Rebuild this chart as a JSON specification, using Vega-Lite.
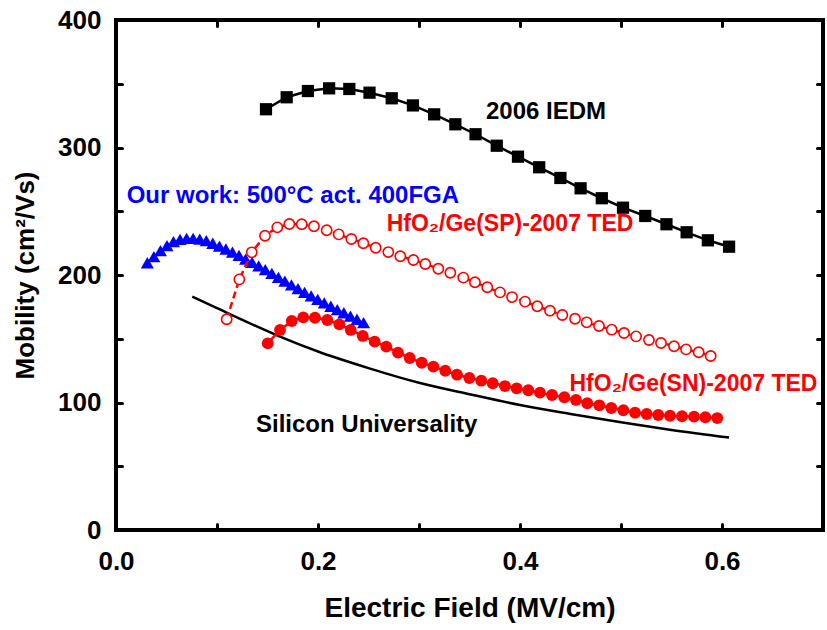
{
  "$schema": "https://vega.github.io/schema/vega-lite/v6.json",
  "width": 707,
  "height": 510,
  "autosize": "none",
  "padding": {"left": 116, "top": 20, "right": 4, "bottom": 100},
  "background": "white",
  "config": {
    "view": {"stroke": "black", "strokeWidth": 4},
    "font": "Liberation Sans",
    "axis": {
      "domain": false,
      "grid": false,
      "tickColor": "black",
      "tickWidth": 3,
      "tickSize": -6,
      "tickCap": "round",
      "labelFlush": false,
      "labelFont": "Liberation Sans",
      "labelFontSize": 26,
      "labelFontWeight": "bold",
      "labelColor": "black",
      "titleFont": "Liberation Sans",
      "titleFontSize": 26,
      "titleFontWeight": "bold",
      "titleColor": "black"
    }
  },
  "datasets": {
    "iedm": [
      {"x": 0.1485, "y": 330}, {"x": 0.169, "y": 339.4}, {"x": 0.190, "y": 344.3}, {"x": 0.211, "y": 346.4},
      {"x": 0.231, "y": 345.9}, {"x": 0.251, "y": 343}, {"x": 0.273, "y": 338.6}, {"x": 0.294, "y": 333},
      {"x": 0.315, "y": 326}, {"x": 0.336, "y": 318.2}, {"x": 0.356, "y": 310.4}, {"x": 0.377, "y": 301.4},
      {"x": 0.398, "y": 292.8}, {"x": 0.419, "y": 284.5}, {"x": 0.440, "y": 276.1}, {"x": 0.460, "y": 268},
      {"x": 0.481, "y": 260.2}, {"x": 0.502, "y": 252.8}, {"x": 0.524, "y": 246.3}, {"x": 0.545, "y": 239.8},
      {"x": 0.565, "y": 233.5}, {"x": 0.586, "y": 227.2}, {"x": 0.607, "y": 222.2}
    ],
    "sp": [
      {"x": 0.1096, "y": 165.3}, {"x": 0.1221, "y": 196.6}, {"x": 0.1344, "y": 217.8}, {"x": 0.1475, "y": 230.8},
      {"x": 0.1597, "y": 237.4}, {"x": 0.1716, "y": 240.0}, {"x": 0.1839, "y": 239.8}, {"x": 0.1960, "y": 238.2},
      {"x": 0.2086, "y": 235.1}, {"x": 0.2205, "y": 231.9}, {"x": 0.2330, "y": 228.2}, {"x": 0.2449, "y": 224.9},
      {"x": 0.2571, "y": 221.4}, {"x": 0.2696, "y": 218.0}, {"x": 0.2815, "y": 214.7}, {"x": 0.2944, "y": 211.8},
      {"x": 0.3062, "y": 208.6}, {"x": 0.3191, "y": 204.9}, {"x": 0.3310, "y": 201.8}, {"x": 0.3439, "y": 197.9},
      {"x": 0.3554, "y": 194.3}, {"x": 0.3676, "y": 190.4}, {"x": 0.3802, "y": 186.4}, {"x": 0.3921, "y": 182.7},
      {"x": 0.4050, "y": 179.1}, {"x": 0.4171, "y": 175.5}, {"x": 0.4297, "y": 172.0}, {"x": 0.4419, "y": 168.6},
      {"x": 0.4545, "y": 165.7}, {"x": 0.4660, "y": 162.9}, {"x": 0.4782, "y": 160.0}, {"x": 0.4908, "y": 157.1},
      {"x": 0.5030, "y": 154.5}, {"x": 0.5149, "y": 151.9}, {"x": 0.5277, "y": 149.0}, {"x": 0.5396, "y": 146.7},
      {"x": 0.5525, "y": 144.1}, {"x": 0.5644, "y": 141.7}, {"x": 0.5769, "y": 139.4}, {"x": 0.5888, "y": 136.5}
    ],
    "sn": [
      {"x": 0.1502, "y": 146.4}, {"x": 0.1624, "y": 156.9}, {"x": 0.1740, "y": 163.9}, {"x": 0.1854, "y": 166.8},
      {"x": 0.1970, "y": 166.5}, {"x": 0.2092, "y": 164.7}, {"x": 0.2211, "y": 161.3}, {"x": 0.2324, "y": 156.9},
      {"x": 0.2443, "y": 152.2}, {"x": 0.2561, "y": 147.7}, {"x": 0.2676, "y": 143.8}, {"x": 0.2792, "y": 139.1},
      {"x": 0.2908, "y": 134.9}, {"x": 0.3027, "y": 131.2}, {"x": 0.3142, "y": 128.1}, {"x": 0.3260, "y": 124.9},
      {"x": 0.3376, "y": 121.8}, {"x": 0.3498, "y": 119.2}, {"x": 0.3617, "y": 117.1}, {"x": 0.3730, "y": 115.1},
      {"x": 0.3851, "y": 112.9}, {"x": 0.3967, "y": 111.1}, {"x": 0.4082, "y": 109.6}, {"x": 0.4198, "y": 107.7},
      {"x": 0.4317, "y": 105.9}, {"x": 0.4439, "y": 104.1}, {"x": 0.4554, "y": 102.0}, {"x": 0.4666, "y": 99.4},
      {"x": 0.4785, "y": 97.8}, {"x": 0.4904, "y": 95.7}, {"x": 0.5023, "y": 93.9}, {"x": 0.5139, "y": 92.0},
      {"x": 0.5254, "y": 91.0}, {"x": 0.5369, "y": 90.2}, {"x": 0.5485, "y": 89.6}, {"x": 0.5604, "y": 89.2},
      {"x": 0.5723, "y": 88.9}, {"x": 0.5835, "y": 88.4}, {"x": 0.5953, "y": 87.8}
    ],
    "ours": [
      {"x": 0.0310, "y": 209.6}, {"x": 0.0375, "y": 214.4}, {"x": 0.0440, "y": 219.1}, {"x": 0.0505, "y": 223.0},
      {"x": 0.0569, "y": 226.1}, {"x": 0.0634, "y": 228.0}, {"x": 0.0699, "y": 228.8}, {"x": 0.0764, "y": 228.8},
      {"x": 0.0829, "y": 228.2}, {"x": 0.0894, "y": 226.9}, {"x": 0.0958, "y": 224.9}, {"x": 0.1024, "y": 222.7},
      {"x": 0.1088, "y": 220.4}, {"x": 0.1153, "y": 218.0}, {"x": 0.1218, "y": 215.4}, {"x": 0.1283, "y": 212.5},
      {"x": 0.1348, "y": 209.9}, {"x": 0.1413, "y": 207.1}, {"x": 0.1478, "y": 204.2}, {"x": 0.1543, "y": 201.2},
      {"x": 0.1608, "y": 198.2}, {"x": 0.1672, "y": 195.2}, {"x": 0.1737, "y": 192.2}, {"x": 0.1802, "y": 189.3},
      {"x": 0.1867, "y": 186.4}, {"x": 0.1932, "y": 183.6}, {"x": 0.1997, "y": 180.9}, {"x": 0.2062, "y": 178.1},
      {"x": 0.2127, "y": 175.5}, {"x": 0.2191, "y": 172.9}, {"x": 0.2256, "y": 170.4}, {"x": 0.2321, "y": 167.8},
      {"x": 0.2386, "y": 165.3}, {"x": 0.2451, "y": 162.7}
    ],
    "si": [
      {"x": 0.0755, "y": 183}, {"x": 0.10, "y": 174}, {"x": 0.13, "y": 163}, {"x": 0.16, "y": 152.5},
      {"x": 0.20, "y": 140}, {"x": 0.25, "y": 127}, {"x": 0.30, "y": 115.5}, {"x": 0.35, "y": 106.5},
      {"x": 0.40, "y": 98}, {"x": 0.45, "y": 91}, {"x": 0.50, "y": 84.5}, {"x": 0.55, "y": 78.5},
      {"x": 0.607, "y": 72.5}
    ]
  },
  "layer": [
    {
      "data": {"name": "si"},
      "mark": {"type": "line", "color": "black", "strokeWidth": 2.5, "interpolate": "monotone"},
      "encoding": {
        "x": {"field": "x", "type": "quantitative",
          "scale": {"domain": [0, 0.7], "nice": false, "zero": false},
          "axis": {"orient": "bottom", "values": [0, 0.1, 0.2, 0.3, 0.4, 0.5, 0.6],
            "labelExpr": "round(datum.value*10) % 2 == 0 ? format(datum.value, '.1f') : ''",
            "labelPadding": 24, "title": "Electric Field (MV/cm)", "titleFontSize": 28, "titlePadding": 20}},
        "y": {"field": "y", "type": "quantitative",
          "scale": {"domain": [0, 400], "nice": false, "zero": false},
          "axis": {"orient": "left", "values": [0, 50, 100, 150, 200, 250, 300, 350, 400],
            "labelExpr": "datum.value % 100 == 0 ? datum.label : ''",
            "labelPadding": 21, "title": "Mobility (cm²/Vs)", "titlePadding": 19}}
      }
    },
    {
      "data": {"name": "iedm"},
      "mark": {"type": "line", "color": "black", "strokeWidth": 2.5},
      "encoding": {
        "x": {"field": "x", "type": "quantitative",
          "axis": {"orient": "top", "values": [0.1, 0.2, 0.3, 0.4, 0.5, 0.6], "labels": false, "title": null}},
        "y": {"field": "y", "type": "quantitative",
          "axis": {"orient": "right", "values": [50, 100, 150, 200, 250, 300, 350], "labels": false, "title": null}}
      }
    },
    {
      "data": {"name": "iedm"},
      "mark": {"type": "point", "shape": "square", "filled": true, "color": "black", "size": 150, "opacity": 1},
      "encoding": {
        "x": {"field": "x", "type": "quantitative", "axis": null},
        "y": {"field": "y", "type": "quantitative", "axis": null}
      }
    },
    {
      "data": {"name": "sn"},
      "mark": {"type": "line", "color": "#ff0000", "strokeWidth": 2.5},
      "encoding": {
        "x": {"field": "x", "type": "quantitative", "axis": null},
        "y": {"field": "y", "type": "quantitative", "axis": null}
      }
    },
    {
      "data": {"name": "sn"},
      "mark": {"type": "point", "shape": "circle", "filled": true, "color": "#ff0000", "size": 140, "opacity": 1},
      "encoding": {
        "x": {"field": "x", "type": "quantitative", "axis": null},
        "y": {"field": "y", "type": "quantitative", "axis": null}
      }
    },
    {
      "data": {"name": "ours"},
      "mark": {"type": "point", "shape": "triangle-up", "filled": true, "color": "#0000ff", "size": 170, "opacity": 1},
      "encoding": {
        "x": {"field": "x", "type": "quantitative", "axis": null},
        "y": {"field": "y", "type": "quantitative", "axis": null}
      }
    },
    {
      "data": {"name": "sp"},
      "mark": {"type": "line", "color": "#ff0000", "strokeWidth": 2.5, "strokeDash": [7, 4]},
      "encoding": {
        "x": {"field": "x", "type": "quantitative", "axis": null},
        "y": {"field": "y", "type": "quantitative", "axis": null}
      }
    },
    {
      "data": {"name": "sp"},
      "mark": {"type": "point", "shape": "circle", "filled": false, "fill": "white", "fillOpacity": 1, "stroke": "#ff0000", "strokeWidth": 1.6, "size": 105, "opacity": 1},
      "encoding": {
        "x": {"field": "x", "type": "quantitative", "axis": null},
        "y": {"field": "y", "type": "quantitative", "axis": null}
      }
    },
    {
      "data": {"values": [{"x": 0.3663, "y": 328.2, "label": "2006 IEDM"}, {"x": 0.1386, "y": 82.1, "label": "Silicon Universality"}]},
      "mark": {"type": "text", "align": "left", "baseline": "middle", "fontSize": 24, "fontWeight": "bold", "color": "black", "font": "Liberation Sans"},
      "encoding": {
        "x": {"field": "x", "type": "quantitative", "axis": null},
        "y": {"field": "y", "type": "quantitative", "axis": null},
        "text": {"field": "label"}
      }
    },
    {
      "data": {"values": [{"x": 0.0106, "y": 261.6, "label": "Our work: 500°C act. 400FGA"}]},
      "mark": {"type": "text", "align": "left", "baseline": "middle", "fontSize": 24, "fontWeight": "bold", "color": "#0000ff", "font": "Liberation Sans"},
      "encoding": {
        "x": {"field": "x", "type": "quantitative", "axis": null},
        "y": {"field": "y", "type": "quantitative", "axis": null},
        "text": {"field": "label"}
      }
    },
    {
      "data": {"values": [{"x": 0.268, "y": 240, "label": "HfO₂/Ge(SP)-2007 TED"}, {"x": 0.449, "y": 114.5, "label": "HfO₂/Ge(SN)-2007 TED"}]},
      "mark": {"type": "text", "align": "left", "baseline": "middle", "fontSize": 23, "fontWeight": "bold", "color": "#ff0000", "font": "Liberation Sans"},
      "encoding": {
        "x": {"field": "x", "type": "quantitative", "axis": null},
        "y": {"field": "y", "type": "quantitative", "axis": null},
        "text": {"field": "label"}
      }
    }
  ],
  "resolve": {"axis": {"x": "independent", "y": "independent"}}
}
